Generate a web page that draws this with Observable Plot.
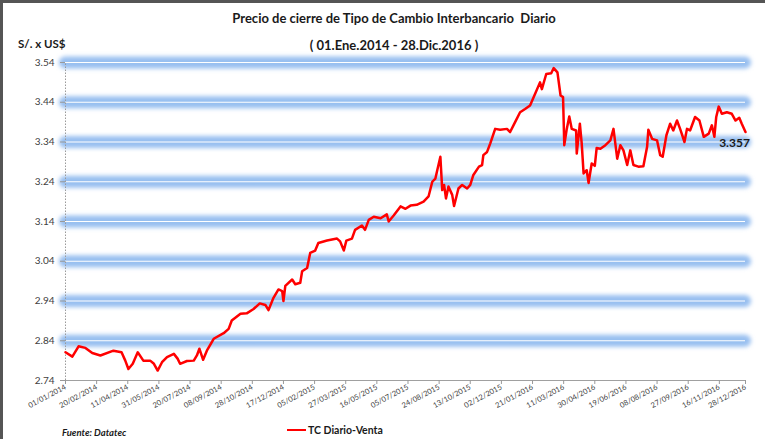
<!DOCTYPE html>
<html><head><meta charset="utf-8">
<script src="https://cdn.jsdelivr.net/npm/d3@7"></script>
<script src="https://cdn.jsdelivr.net/npm/@observablehq/plot@0.6"></script>
<style>
body{margin:0;background:#fff;}
#frame{position:relative;width:765px;height:439px;overflow:hidden;font-family:Lato,"Liberation Sans",sans-serif;color:#1a1a1a;}
#frame .bt{position:absolute;left:0;top:0;width:765px;height:3px;background:#555;}
#frame .bl{position:absolute;left:0;top:0;width:3px;height:439px;background:#555;}
#chart{position:absolute;left:0;top:0;}
.title{position:absolute;left:0;width:788px;text-align:center;font-weight:bold;font-size:13px;}
#ylab{position:absolute;left:18px;top:37px;font-weight:bold;font-size:11.5px;}
#src{position:absolute;left:62px;top:427px;font-weight:bold;font-style:italic;font-size:9.5px;}
#leg{position:absolute;left:287px;top:424px;font-weight:bold;font-size:10.5px;display:flex;align-items:center;}
#leg span.sw{display:inline-block;width:19px;height:2px;background:#ff0000;margin-right:2px;}
</style></head>
<body>
<div id="frame">
  <div class="bt"></div><div class="bl"></div>
  <div id="chart"></div>
  <div class="title" style="top:10px">Precio de cierre de Tipo de Cambio Interbancario&nbsp; Diario</div>
  <div class="title" style="top:37px">( 01.Ene.2014 - 28.Dic.2016 )</div>
  <div id="ylab">S/. x US$</div>
  <div id="src">Fuente: Datatec</div>
  <div id="leg"><span class="sw"></span>TC Diario-Venta</div>
</div>
<script>
// Series: TC Diario-Venta (S/. x US$)
const dates = [
"2014-01-01","2014-01-12","2014-01-22","2014-02-02","2014-02-13","2014-02-26","2014-03-19","2014-04-01",
"2014-04-07","2014-04-12","2014-04-19","2014-04-27","2014-05-06","2014-05-17","2014-05-23","2014-05-29",
"2014-06-05","2014-06-13","2014-06-24","2014-06-30","2014-07-04","2014-07-15","2014-07-26","2014-07-31",
"2014-08-04","2014-08-10","2014-08-16","2014-08-27","2014-09-12","2014-09-20","2014-09-25","2014-10-09",
"2014-10-19","2014-10-30","2014-11-09","2014-11-18","2014-11-23","2014-12-01","2014-12-09","2014-12-15",
"2014-12-17","2014-12-20","2014-12-31","2015-01-05","2015-01-13","2015-01-16","2015-01-24","2015-01-29",
"2015-02-06","2015-02-11","2015-02-25","2015-03-13","2015-03-18","2015-03-24","2015-03-28","2015-04-06",
"2015-04-11","2015-04-22","2015-04-27","2015-05-03","2015-05-11","2015-05-22","2015-06-01","2015-06-04",
"2015-06-12","2015-06-23","2015-07-01","2015-07-09","2015-07-19","2015-07-30","2015-08-07","2015-08-13",
"2015-08-18","2015-08-21","2015-08-26","2015-08-29","2015-09-01","2015-09-04","2015-09-08","2015-09-14",
"2015-09-17","2015-09-24","2015-09-30","2015-10-08","2015-10-13","2015-10-18","2015-10-27","2015-11-01",
"2015-11-03","2015-11-09","2015-11-14","2015-11-22","2015-11-30","2015-12-11","2015-12-16","2015-12-24",
"2016-01-01","2016-01-09","2016-01-17","2016-01-25","2016-02-02","2016-02-05","2016-02-12","2016-02-20",
"2016-02-24","2016-03-01","2016-03-06","2016-03-10","2016-03-12","2016-03-16","2016-03-20","2016-03-24",
"2016-03-31","2016-04-01","2016-04-06","2016-04-09","2016-04-12","2016-04-17","2016-04-20","2016-04-25",
"2016-04-30","2016-05-03","2016-05-09","2016-05-17","2016-05-25","2016-05-30","2016-06-05","2016-06-10",
"2016-06-15","2016-06-21","2016-06-26","2016-07-01","2016-07-09","2016-07-17","2016-07-23","2016-07-25",
"2016-07-31","2016-08-08","2016-08-13","2016-08-17","2016-08-23","2016-08-29","2016-09-03","2016-09-09",
"2016-09-14","2016-09-21","2016-09-25","2016-09-30","2016-10-08","2016-10-15","2016-10-22","2016-10-30",
"2016-11-04","2016-11-08","2016-11-11","2016-11-15","2016-11-20","2016-11-28","2016-12-06","2016-12-12",
"2016-12-18","2016-12-22","2016-12-28"
];
const values = [
2.811,2.800,2.826,2.822,2.809,2.803,2.815,2.811,
2.790,2.769,2.782,2.811,2.790,2.790,2.782,2.765,
2.786,2.799,2.807,2.795,2.782,2.789,2.790,2.803,
2.820,2.792,2.815,2.845,2.859,2.870,2.891,2.908,
2.909,2.920,2.934,2.930,2.917,2.948,2.969,2.965,
2.940,2.978,2.994,2.982,2.986,3.015,3.023,3.061,
3.067,3.086,3.092,3.097,3.090,3.067,3.092,3.097,
3.119,3.130,3.119,3.144,3.152,3.148,3.158,3.140,
3.155,3.178,3.172,3.180,3.182,3.190,3.203,3.240,
3.248,3.269,3.303,3.219,3.232,3.198,3.228,3.207,
3.179,3.223,3.232,3.223,3.232,3.257,3.278,3.282,
3.307,3.315,3.336,3.373,3.371,3.373,3.365,3.390,
3.415,3.423,3.432,3.461,3.490,3.473,3.511,3.513,
3.526,3.515,3.457,3.453,3.332,3.373,3.404,3.373,
3.369,3.311,3.386,3.336,3.261,3.269,3.237,3.286,
3.280,3.325,3.323,3.332,3.344,3.373,3.298,3.332,
3.319,3.282,3.319,3.282,3.278,3.279,3.328,3.371,
3.348,3.344,3.307,3.303,3.357,3.386,3.369,3.394,
3.373,3.340,3.373,3.369,3.403,3.394,3.353,3.361,
3.382,3.353,3.403,3.429,3.411,3.415,3.411,3.394,
3.401,3.386,3.365
];
const yTicks = [2.74,2.84,2.94,3.04,3.14,3.24,3.34,3.44,3.54];
const xTickLabels = ["01/01/2014","20/02/2014","11/04/2014","31/05/2014","20/07/2014","08/09/2014",
"28/10/2014","17/12/2014","05/02/2015","27/03/2015","16/05/2015","05/07/2015","24/08/2015",
"13/10/2015","02/12/2015","21/01/2016","11/03/2016","30/04/2016","19/06/2016","08/08/2016",
"27/09/2016","16/11/2016","28/12/2016"];
const lastLabel = "3.357";
const seriesName = "TC Diario-Venta";

const parseDMY = d3.utcParse("%d/%m/%Y");
const xTicks = xTickLabels.map(parseDMY);
const data = dates.map((d, i) => ({date: new Date(d), value: values[i]}));
const gridVals = yTicks.slice(1);
const x0 = xTicks[0], x1 = xTicks[xTicks.length - 1];

const plot = Plot.plot({
  width: 765,
  height: 418,
  marginLeft: 65,
  marginRight: 20,
  marginTop: 62,
  marginBottom: 38,
  style: {fontFamily: "Lato, 'Liberation Sans', sans-serif", color: "#404040", background: "transparent"},
  x: {type: "utc", domain: [x0, x1], axis: null},
  y: {domain: [2.74, 3.54], axis: null},
  marks: [
    Plot.ruleY(gridVals, {stroke: "#98bff0", strokeWidth: 12, strokeLinecap: "round"}),
    Plot.ruleY(gridVals, {stroke: "#ffffff", strokeWidth: 1.2}),
    Plot.ruleX([x0], {y1: 2.74, y2: 3.54, stroke: "#9a9a9a", strokeDasharray: "1.5,1.5"}),
    Plot.ruleY([2.74], {stroke: "#a0a0a0", strokeWidth: 1}),
    Plot.axisY(yTicks, {label: null, tickFormat: d => d.toFixed(2), tickSize: 5, tickPadding: 6, fontSize: 10, stroke: "#999"}),
    Plot.axisX(xTicks, {label: null, tickFormat: d3.utcFormat("%d/%m/%Y"), tickRotate: -28, tickSize: 4, tickPadding: 2, fontSize: 7.5, stroke: "#999"}),
    Plot.line(data, {x: "date", y: "value", stroke: "#ff0000", strokeWidth: 2.5, strokeLinejoin: "round"}),
    Plot.text(data.slice(-1), {x: "date", y: "value", text: () => lastLabel, dx: -11, dy: 11, fontSize: 12, fontWeight: "bold", fill: "#1a1a1a", textAnchor: "middle"})
  ]
});

const svg = d3.select(plot);
const defs = svg.insert("defs", ":first-child");
const f = defs.append("filter").attr("id", "glow").attr("filterUnits", "userSpaceOnUse")
  .attr("x", 0).attr("y", 0).attr("width", 765).attr("height", 439);
f.append("feGaussianBlur").attr("stdDeviation", 2.1);
// blur the wide band rules (group or elements with stroke-width 12)
svg.selectAll("g, line").filter(function() {
  return this.getAttribute("stroke-width") === "12";
}).attr("filter", "url(#glow)");
document.getElementById("chart").appendChild(plot);
</script>
</body></html>
